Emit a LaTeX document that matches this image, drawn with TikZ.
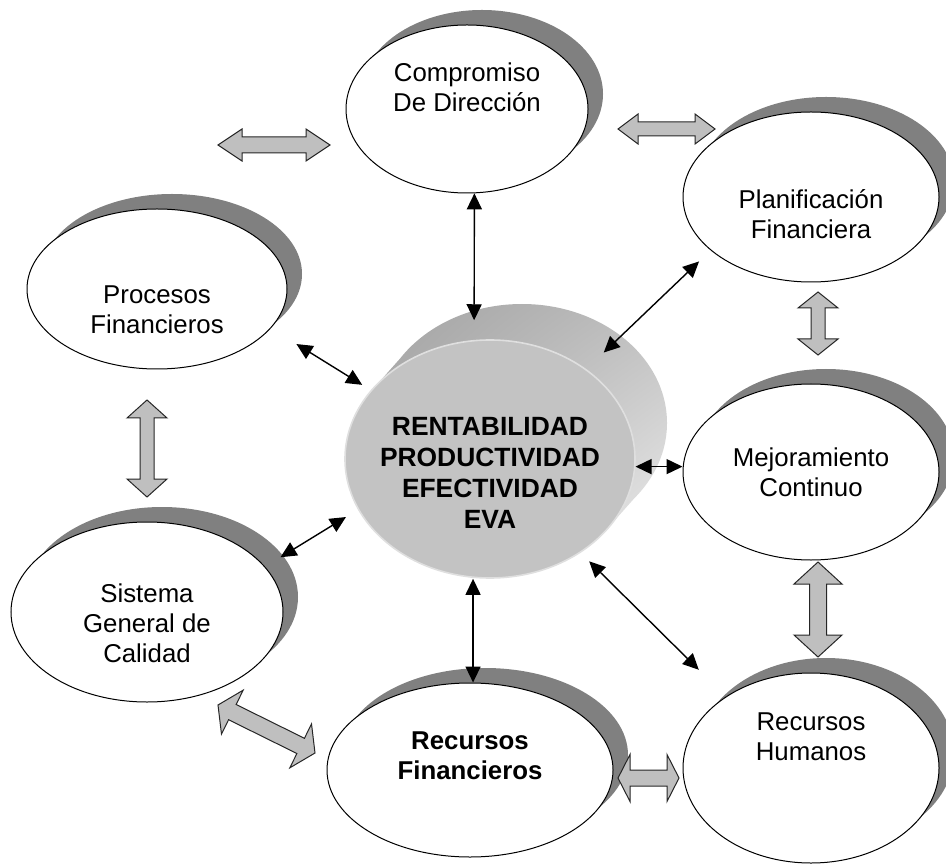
\documentclass[tikz,border=0pt]{standalone}
\usepackage{fontspec}
\setmainfont{Liberation Sans}
\usetikzlibrary{shapes.geometric,arrows.meta,calc,shadows,shadings}

% wide grey double arrow: start, end, half shaft, half head, head length
\newcommand{\fatarrow}[5]{%
  \coordinate (fa) at #1;
  \coordinate (fb) at #2;
  \coordinate (fa1) at ($(fa)!#5!(fb)$);
  \coordinate (fb1) at ($(fb)!#5!(fa)$);
  \draw[fat] (fa) -- ($(fa1)!#4!90:(fb)$) -- ($(fa1)!#3!90:(fb)$)
    -- ($(fb1)!#3!-90:(fa)$) -- ($(fb1)!#4!-90:(fa)$) -- (fb)
    -- ($(fb1)!#4!90:(fa)$) -- ($(fb1)!#3!90:(fa)$)
    -- ($(fa1)!#3!-90:(fb)$) -- ($(fa1)!#4!-90:(fb)$) -- cycle;
}

\begin{document}
\begin{tikzpicture}[
    x=0.5pt, y=-0.5pt,
    bubble/.style={ellipse, draw=black, line width=0.5pt, fill=white, inner sep=0pt,
        drop shadow={shadow xshift=7.5pt, shadow yshift=7.5pt, fill=gray, opacity=1}},
    txt/.style={font=\fontsize{12.9}{15}\selectfont, align=center},
    ctxt/.style={font=\fontsize{13.2}{15.5}\selectfont\bfseries, align=center},
    cylface/.style={ellipse, minimum width=145pt, minimum height=119pt, inner sep=0pt},
    link/.style={<->, >={Triangle[length=8pt,width=7.5pt]}, line width=0.7pt},
    fat/.style={draw=black!85, line width=0.5pt, fill=gray!50, line join=miter},
]
    \useasboundingbox (0,0) rectangle (946,865);

    % Outer ellipses
    \node[bubble, minimum width=121pt, minimum height=84pt] (comp) at (467,109) {};
    \node[bubble, minimum width=128pt, minimum height=85pt] (plan) at (811,197) {};
    \node[bubble, minimum width=130pt, minimum height=80pt] (proc) at (157,289) {};
    \node[bubble, minimum width=128pt, minimum height=88pt] (mej) at (811,472) {};
    \node[bubble, minimum width=136pt, minimum height=90pt] (sist) at (147,612) {};
    \node[bubble, minimum width=143pt, minimum height=87pt] (recfin) at (470,770) {};
    \node[bubble, minimum width=128pt, minimum height=95pt] (rechum) at (811,768) {};

    \node[txt] (comptxt) at ([yshift=11pt]comp.center) {Compromiso\\De Dirección};
    \node[txt] (plantxt) at ([yshift=-8.5pt]plan.center) {Planificación\\Financiera};
    \node[txt] (proctxt) at ([yshift=-10.5pt]proc.center) {Procesos\\Financieros};
    \node[txt] (mejtxt) at (mej.center) {Mejoramiento\\Continuo};
    \node[txt] (sisttxt) at ([yshift=-5.5pt]sist.center) {Sistema\\General de\\Calidad};
    \node[txt, font=\fontsize{12.9}{15}\selectfont\bfseries] (recfintxt) at ([yshift=7pt]recfin.center) {Recursos\\Financieros};
    \node[txt] (rechumtxt) at ([yshift=15.5pt]rechum.center) {Recursos\\Humanos};

    % Central cylinder
    \node[cylface] (cyltop) at (522,423) {};
    \shade[upper left=gray!75, upper right=gray!50, lower left=gray!55, lower right=gray!12]
        (490,459) ellipse [x radius=72.5pt, y radius=59.5pt]
        (522,423) ellipse [x radius=72.5pt, y radius=59.5pt]
        (607,529) -- (639,493) -- (405,353) -- (373,389) -- cycle;
    \node[cylface, fill=gray!47, draw=gray!25, line width=0.8pt] (cyl) at (490,459) {};
    \node[ctxt] (cyltxt) at ([yshift=-7pt]cyl.center) {RENTABILIDAD\\PRODUCTIVIDAD\\EFECTIVIDAD\\EVA};

    % Thin arrows to the centre
    \draw[link, shorten >=-5pt] (comp.-85) -- (cyltop.113);
    \draw[link, shorten <=8pt, shorten >=12pt] (plan.208) -- (cyl.43);
    \draw[link, shorten <=15pt, shorten >=5pt] (proc.-19) -- (cyl.150);
    \draw[link] (cyl.-3) -- (cyl.-3 -| mej.west);
    \draw[link, shorten <=9pt, shorten >=7pt] (sist.21) -- (cyl.201);
    \draw[link] (recfin.88) -- (recfin.88 |- cyl.south);
    \draw[link, shorten <=6pt, shorten >=19pt] (cyl.-46) -- (rechum.140);

    % Wide grey arrows
    \fatarrow{(218,145)}{(330,145)}{4pt}{8pt}{12pt}
    \fatarrow{(618,129)}{(715,129)}{3.5pt}{7.5pt}{10pt}
    \fatarrow{(818,292)}{(818,355)}{3.5pt}{10pt}{8pt}
    \fatarrow{(147,400)}{(147,497)}{3.5pt}{10pt}{9pt}
    \fatarrow{(818,562)}{(818,657)}{4.25pt}{12pt}{11pt}
    \fatarrow{(218,705)}{(315,753)}{4.25pt}{12.25pt}{8pt}
    \fatarrow{(618,778)}{(679,778)}{4pt}{11.75pt}{6pt}
\end{tikzpicture}
\end{document}
